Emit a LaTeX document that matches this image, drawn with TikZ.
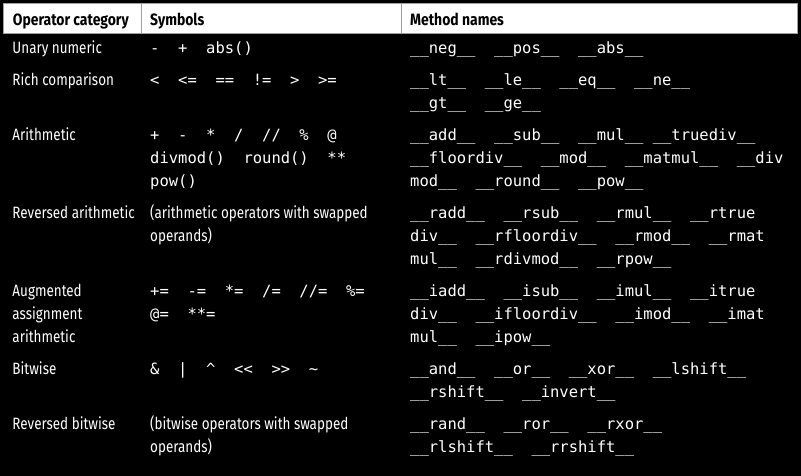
\documentclass[tikz,border=0pt]{standalone}
\usepackage{fontspec}
\setmainfont{Fira Sans}[FakeStretch=0.82, BoldFeatures={FakeStretch=0.85}]
\setmonofont{DejaVu Sans Mono}
\usetikzlibrary{positioning}

\newcommand{\du}{\_\_}

\tikzset{
  cat/.style={anchor=base west, inner sep=0pt, align=left, text=white,
    font=\fontsize{16.4}{23}\selectfont},
  sym/.style={cat, font=\ttfamily\fontsize{15.5}{23}\selectfont},
  head/.style={anchor=base west, inner sep=0pt, text=black,
    font=\bfseries\fontsize{16.4}{23}\selectfont},
  hdline/.style={draw=gray!75, line width=0.8pt}
}

\begin{document}
\begin{tikzpicture}[x=1pt, y=-1pt]
\fill[black] (0,0) rectangle (801,476);
\useasboundingbox (0,0) rectangle (801,476);

% header
\draw[hdline, fill=white] (3.5,3.5) rectangle (797.5,33.5);
\draw[hdline] (141.7,3.5) -- (141.7,33.5);
\draw[hdline] (401.7,3.5) -- (401.7,33.5);
\node[head] (h1) at (12.7,26) {Operator category};
\node[head] (h2) at (150,26) {Symbols};
\node[head] (h3) at (410,26) {Method names};

% categories (base = baseline of the last line)
\node[cat] (c1) at (12.3,53.5) {Unary numeric};
\node[cat] (c2) at (12.3,85.5) {Rich comparison};
\node[cat] (c3) at (12.3,140.5) {Arithmetic};
\node[cat] (c4) at (12.3,218.5) {Reversed arithmetic};
\node[cat] (c5) at (12.3,342.5) {Augmented\\assignment\\arithmetic};
\node[cat] (c6) at (12.3,374.5) {Bitwise};
\node[cat] (c7) at (12.3,429.5) {Reversed bitwise};

% symbols
\node[sym] (s1) at (c1.base -| h2.base west) {-~~+~~abs()};
\node[sym] (s2) at (c2.base -| h2.base west) {<~~<=~~==~~!=~~>~~>=};
\node[sym] (s3) at ([yshift=-46pt]c3.base -| h2.base west) {+~~-~~*~~/~~//~~\%~~@\\divmod()~~round()~~**\\pow()};
\node[cat] (s4) at ([yshift=-23pt]c4.base -| h2.base west) {(arithmetic operators with swapped\\operands)};
\node[sym] (s5) at ([yshift=23pt]c5.base -| h2.base west) {+=~~-=~~*=~~/=~~//=~~\%=\\@=~~**=};
\node[sym] (s6) at (c6.base -| h2.base west) {\&~~|~~\textasciicircum~~<<~~>>~~\textasciitilde};
\node[cat] (s7) at ([yshift=-23pt]c7.base -| h2.base west) {(bitwise operators with swapped\\operands)};

% method names
\node[sym] (m1) at (c1.base -| h3.base west) {\du neg\du~~\du pos\du~~\du abs\du};
\node[sym] (m2) at ([yshift=-23pt]c2.base -| h3.base west) {\du lt\du~~\du le\du~~\du eq\du~~\du ne\du\\\du gt\du~~\du ge\du};
\node[sym] (m3) at ([yshift=-46pt]c3.base -| h3.base west) {\du add\du~~\du sub\du~~\du mul\du~\du truediv\du\\\du floordiv\du~~\du mod\du~~\du matmul\du~~\du div\\mod\du~~\du round\du~~\du pow\du};
\node[sym] (m4) at ([yshift=-46pt]c4.base -| h3.base west) {\du radd\du~~\du rsub\du~~\du rmul\du~~\du rtrue\\div\du~~\du rfloordiv\du~~\du rmod\du~~\du rmat\\mul\du~~\du rdivmod\du~~\du rpow\du};
\node[sym] (m5) at (c5.base -| h3.base west) {\du iadd\du~~\du isub\du~~\du imul\du~~\du itrue\\div\du~~\du ifloordiv\du~~\du imod\du~~\du imat\\mul\du~~\du ipow\du};
\node[sym] (m6) at ([yshift=-23pt]c6.base -| h3.base west) {\du and\du~~\du or\du~~\du xor\du~~\du lshift\du\\\du rshift\du~~\du invert\du};
\node[sym] (m7) at ([yshift=-23pt]c7.base -| h3.base west) {\du rand\du~~\du ror\du~~\du rxor\du\\\du rlshift\du~~\du rrshift\du};
\end{tikzpicture}
\end{document}
